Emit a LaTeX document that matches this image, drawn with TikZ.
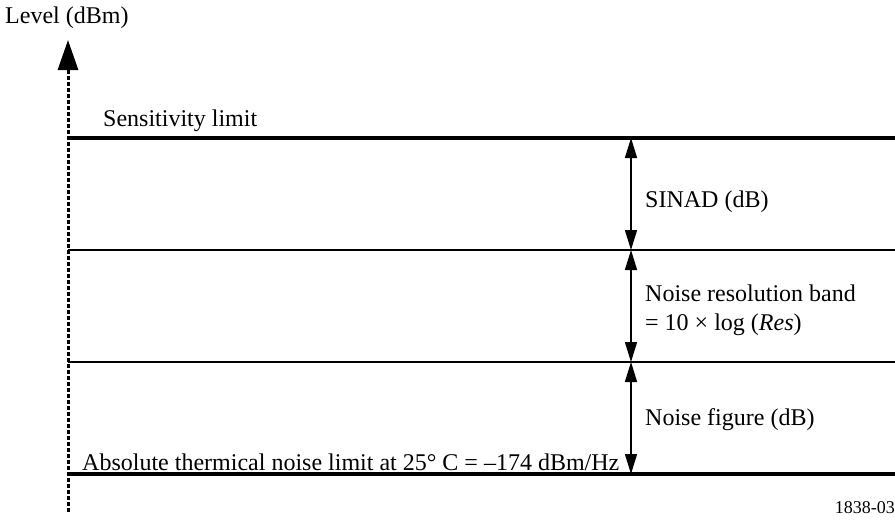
\documentclass[tikz,border=0pt]{standalone}
\usepackage{fontspec}
\setmainfont{Liberation Serif}
\usetikzlibrary{arrows.meta, positioning}
\tikzset{
  lbl/.style={font=\fontsize{24}{29}\selectfont, inner sep=0pt, align=left},
  tagtext/.style={font=\fontsize{18}{22}\selectfont, inner sep=0pt},
  thinlevel/.style={line width=2pt},
  thicklevel/.style={line width=3.5pt},
  axisline/.style={line width=3pt, dash pattern=on 4pt off 2pt,
                   -{Triangle[length=30pt, width=20pt]}},
  bandarrow/.style={{Triangle[length=20pt, width=12pt]}-{Triangle[length=20pt, width=12pt]},
                    line width=1.5pt}
}

\begin{document}
\begin{tikzpicture}[x=1pt, y=-1pt]
  \useasboundingbox (0,0) rectangle (895,522);

  % Axis
  \coordinate (axb) at (68,512);
  \coordinate (axt) at (68,40);
  \draw[axisline] (axb) -- (axt);
  \node[lbl, anchor=west] (lev) at (5,18) {Level (dBm)};

  % Levels
  \coordinate (l1) at (68,138);  \coordinate (r1) at (895,138);
  \coordinate (l2) at (68,250);  \coordinate (r2) at (895,250);
  \coordinate (l3) at (68,362);  \coordinate (r3) at (895,362);
  \coordinate (l4) at (68,474);  \coordinate (r4) at (895,474);
  \draw[thicklevel] (l1) -- (r1);
  \draw[thinlevel] (l2) -- (r2);
  \draw[thinlevel] (l3) -- (r3);
  \draw[thicklevel] (l4) -- (r4);

  \node[lbl, anchor=west] (sens) at (103,121) {Sensitivity limit};
  \node[lbl, anchor=west] (abs) at (82,462)
      {Absolute thermical noise limit at 25° C = –174 dBm/Hz};

  % Bands
  \coordinate (a1) at (631,138);
  \coordinate (a2) at (631,250);
  \coordinate (a3) at (631,362);
  \coordinate (a4) at (631,474);
  \draw[bandarrow] (a1) -- (a2);
  \draw[bandarrow] (a2) -- (a3);
  \draw[bandarrow] (a3) -- (a4);

  \node[lbl, anchor=west] (sinad) at (645,202) {SINAD (dB)};
  \node[lbl, anchor=west] (res) at (645,310)
      {Noise resolution band\\= 10 × log (\textit{Res})};
  \node[lbl, anchor=west] (nf) at (645,420) {Noise figure (dB)};

  \node[tagtext, anchor=east] (tag) at (895,508) {1838-03};
\end{tikzpicture}
\end{document}
